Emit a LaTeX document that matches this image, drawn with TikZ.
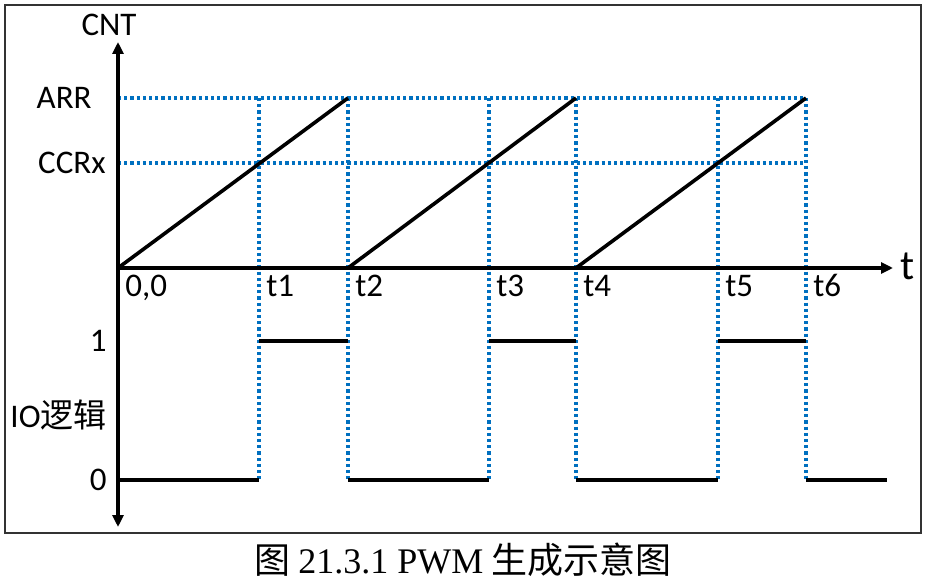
\documentclass[tikz,border=0pt]{standalone}
\usepackage{fontspec}
\setmainfont{Carlito}
\newfontfamily\cjk{Noto Sans CJK SC}
\newfontfamily\capfont{Liberation Serif}
\usetikzlibrary{arrows.meta}
\definecolor{DB}{HTML}{0070C0}
\definecolor{FR}{HTML}{333333}

\begin{document}
\begin{tikzpicture}[x=0.5pt, y=-0.5pt,
    every node/.style={inner sep=0pt, font=\fontsize{16.5}{18}\selectfont},
    guide/.style={DB, line width=1.7pt, dash pattern=on 1.6pt off 1.5pt},
    signal/.style={line width=1.8pt},
    axis/.style={line width=1.8pt, -{Triangle[length=6pt,width=5.5pt]}}]
    \useasboundingbox (0,0) rectangle (926,582);
    \draw[FR, line width=1.1pt] (5,5) rectangle (921,533);
    % axes
    \coordinate (O) at (118,268);
    \coordinate (Ytop) at (118,42);
    \coordinate (Ybot) at (118,527);
    \coordinate (Xend) at (893,268);
    \coordinate (L0) at (118,480);
    \coordinate (Lend) at (887,480);
    % time marks
    \foreach \x [count=\i] in {259,348,489,576,718,806} {
        \coordinate (a\i) at (\x,98);
        \coordinate (c\i) at (\x,163);
        \coordinate (z\i) at (\x,268);
        \coordinate (h\i) at (\x,341);
        \coordinate (l\i) at (\x,480);
        \node[anchor=base west] (tl\i) at (\x+7,297) {t\i};
    }
    % dotted guides
    \draw[guide] (118,98) -- (a6);
    \draw[guide] (118,163) -- (c6);
    \foreach \i in {1,...,6} \draw[guide] (a\i) -- (l\i);
    % counter ramps
    \draw[signal] (O) -- (a2);
    \draw[signal] (z2) -- (a4);
    \draw[signal] (z4) -- (a6);
    % IO level
    \draw[signal] (L0) -- (l1);
    \draw[signal] (h1) -- (h2);
    \draw[signal] (l2) -- (l3);
    \draw[signal] (h3) -- (h4);
    \draw[signal] (l4) -- (l5);
    \draw[signal] (h5) -- (h6);
    \draw[signal] (l6) -- (Lend);
    \draw[axis] (O) -- (Ytop);
    \draw[axis] (O) -- (Ybot);
    \draw[axis] (O) -- (Xend);
    % labels
    \node (cnt) at (109,25) {CNT};
    \node[anchor=east] (arr) at (92,98) {ARR};
    \node[anchor=east] (ccr) at (106,163) {CCRx};
    \node[anchor=base west] (orig) at (125,297) {0,0};
    \node[font=\fontsize{21}{22}\selectfont] (tt) at (908,266) {t};
    \node[anchor=east] (one) at (107,341) {1};
    \node[anchor=east] (io) at (107,415) {IO{\cjk 逻辑}};
    \node[anchor=east] (zero) at (107,480) {0};
    \node[font=\fontsize{18}{20}\selectfont] (cap) at (463,560) {{\cjk 图} {\capfont 21.3.1 PWM} {\cjk 生成示意图}};
\end{tikzpicture}
\end{document}
